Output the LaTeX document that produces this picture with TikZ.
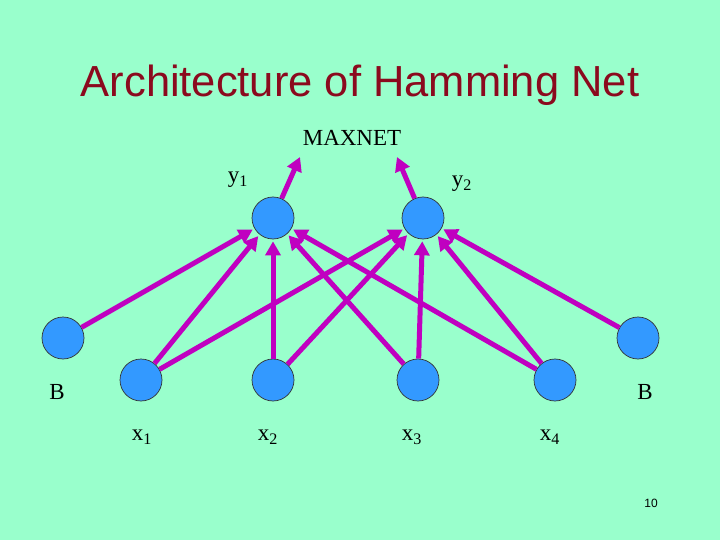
\documentclass[tikz,border=0pt]{standalone}
\usepackage{fontspec}
\setmainfont{Liberation Serif}
\setsansfont{Liberation Sans}
\usetikzlibrary{arrows.meta}
\definecolor{bg}{HTML}{99FFCC}
\definecolor{neuron}{HTML}{3399FF}
\definecolor{link}{HTML}{C000C0}
\definecolor{titlered}{HTML}{8B0A1E}
\tikzset{
  neuron/.style={circle, draw=black!80, line width=0.7pt, fill=neuron, minimum size=42pt, inner sep=0pt},
  conn/.style={draw=link, line width=5pt, shorten >=2pt, -{Triangle[length=14pt,width=15pt]}},
  lbl/.style={font=\fontsize{23}{25}\selectfont, inner sep=0pt},
}
\begin{document}
\begin{tikzpicture}[x=1pt,y=-1pt]
\fill[bg] (0,0) rectangle (720,540);
\useasboundingbox (0,0) rectangle (720,540);
\node[font=\sffamily\fontsize{43.5}{46}\selectfont, text=titlered, inner sep=0pt, anchor=base] (title) at (360,97) {Architecture of Hamming Net};
\node[lbl] (maxnet) at (352,138) {MAXNET};
\node[neuron] (y1) at (273,218) {};
\node[neuron] (y2) at (423,218) {};
\node[neuron] (bl) at (63,338) {};
\node[neuron] (br) at (638,338) {};
\node[neuron] (x1) at (141,380) {};
\node[neuron] (x2) at (273,380) {};
\node[neuron] (x3) at (418,380) {};
\node[neuron] (x4) at (555,380) {};
\coordinate (m1) at (300,157);
\coordinate (m2) at (397,157);
\draw[conn] (bl) -- (y1);
\draw[conn] (br) -- (y2);
\foreach \s in {x1,x2,x3,x4}{
  \draw[conn] (\s) -- (y1);
  \draw[conn] (\s) -- (y2);
}
\draw[conn, shorten >=0pt] (y1) -- (m1);
\draw[conn, shorten >=0pt] (y2) -- (m2);
\node[lbl] (ly1) at (238,180) {y\textsubscript{1}};
\node[lbl] (ly2) at (462,184) {y\textsubscript{2}};
\node[lbl] (lbl1) at (57,392) {B};
\node[lbl] (lbl2) at (645,392) {B};
\node[lbl] (lx1) at (142,437) {x\textsubscript{1}};
\node[lbl] (lx2) at (268,437) {x\textsubscript{2}};
\node[lbl] (lx3) at (412,437) {x\textsubscript{3}};
\node[lbl] (lx4) at (550,437) {x\textsubscript{4}};
\node[font=\sffamily\fontsize{12}{14}\selectfont, inner sep=0pt] (pg) at (651,503) {10};
\end{tikzpicture}
\end{document}
